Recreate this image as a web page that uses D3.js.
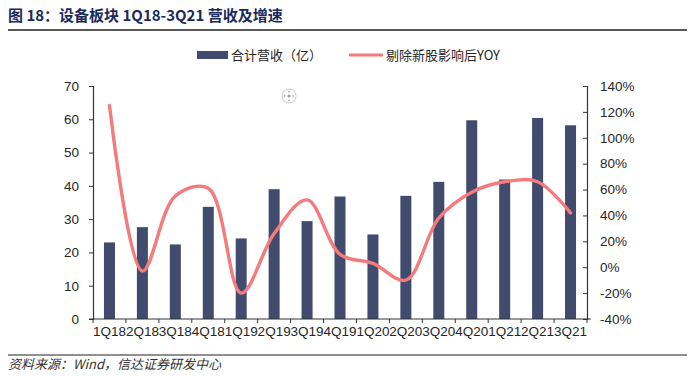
<!DOCTYPE html>
<html><head><meta charset="utf-8">
<script src="https://cdn.jsdelivr.net/npm/d3@7"></script>
<style>
html,body{margin:0;padding:0;background:#fff;}
svg{display:block;font-family:"Liberation Sans",Arial,"Noto Sans CJK SC",sans-serif;}
</style></head>
<body>
<svg id="c" width="700" height="376"></svg>
<script>
const categories = ["1Q18","2Q18","3Q18","4Q18","1Q19","2Q19","3Q19","4Q19","1Q20","2Q20","3Q20","4Q20","1Q21","2Q21","3Q21"];
const revenue = [23.0, 27.6, 22.4, 33.7, 24.2, 39.0, 29.4, 36.8, 25.4, 37.0, 41.2, 59.7, 41.9, 60.4, 58.2];
const yoy = [125, -3, 55, 61, -20, 26, 52, 10, 3, -10, 38, 58, 66, 66, 42];
const leftTicks = [0,10,20,30,40,50,60,70];
const rightTicks = [-40,-20,0,20,40,60,80,100,120,140];
const seriesNames = ["合计营收（亿）","剔除新股影响后YOY"];
const titleText = "图 18：设备板块 1Q18-3Q21 营收及增速";
const sourceText = "资料来源：Wind，信达证券研发中心";

const svg = d3.select("#c");
const L = 93, R = 587, T = 86, B = 319;
const barColor = "#414b6d", lineColor = "#f47a7c", txt = "#262626";

// header
svg.append("text").attr("x",8).attr("y",21).attr("font-size",15).attr("font-weight","bold")
  .attr("fill","#1b2a5a").attr("font-family","'Noto Sans CJK SC','Liberation Sans',sans-serif").text(titleText);
svg.append("line").attr("x1",8).attr("x2",687).attr("y1",30).attr("y2",30).attr("stroke","#222").attr("stroke-width",1.6);
svg.append("line").attr("x1",8).attr("x2",687).attr("y1",355).attr("y2",355).attr("stroke","#222").attr("stroke-width",1.2);
svg.append("text").attr("x",8).attr("y",369).attr("font-size",13).attr("font-style","italic")
  .attr("fill","#333").attr("font-family","'Noto Sans CJK SC','Liberation Sans',sans-serif").text(sourceText);

const x = d3.scaleBand().domain(categories).range([L,R]).paddingInner(0).paddingOuter(0);
const yL = d3.scaleLinear().domain([0,70]).range([B,T]);
const yR = d3.scaleLinear().domain([-40,140]).range([B,T]);
const bw = 11;

// bars
svg.append("g").selectAll("rect").data(categories).join("rect")
  .attr("x",d=>x(d)+x.bandwidth()/2-bw/2).attr("width",bw)
  .attr("y",(d,i)=>yL(revenue[i])).attr("height",(d,i)=>B-yL(revenue[i]))
  .attr("fill",barColor);

// left axis
const gl = svg.append("g").attr("transform",`translate(${L},0)`)
  .call(d3.axisLeft(yL).tickValues(leftTicks).tickSize(4).tickPadding(10));
// right axis
const gr = svg.append("g").attr("transform",`translate(${R},0)`)
  .call(d3.axisRight(yR).tickValues(rightTicks).tickSize(-4).tickPadding(13).tickFormat(d=>d+"%"));
// x axis
const gx = svg.append("g").attr("transform",`translate(0,${B})`)
  .call(d3.axisBottom(x).tickSize(0).tickPadding(7));
gx.selectAll("line.bt").data(d3.range(categories.length+1)).join("line").attr("class","bt")
  .attr("x1",i=>L+i*x.bandwidth()).attr("x2",i=>L+i*x.bandwidth()).attr("y1",0).attr("y2",4).attr("stroke","#333");
gx.select(".domain").attr("d",`M${L-4},0H${R+4}`);
[gl,gr,gx].forEach(g=>{
  g.selectAll(".domain").attr("stroke","#333").attr("stroke-width",1.2);
  g.selectAll(".tick line").attr("stroke","#333");
  g.selectAll("text").attr("font-size",13.5).attr("fill",txt).attr("font-family","'Liberation Sans',Arial,sans-serif");
});

// line
const line = d3.line().x((d,i)=>x(categories[i])+x.bandwidth()/2).y(d=>yR(d)).curve(d3.curveCatmullRom.alpha(0.5));
svg.append("path").datum(yoy).attr("d",line).attr("fill","none").attr("stroke",lineColor)
  .attr("stroke-width",3.4).attr("stroke-linecap","round");

// legend
const lg = svg.append("g").attr("font-family","'Noto Sans CJK SC','Liberation Sans',sans-serif").attr("font-size",13).attr("fill",txt);
lg.append("rect").attr("x",197).attr("y",51).attr("width",31).attr("height",8).attr("fill",barColor);
lg.append("text").attr("x",231).attr("y",60).text(seriesNames[0]);
lg.append("line").attr("x1",349).attr("x2",383).attr("y1",55).attr("y2",55).attr("stroke",lineColor).attr("stroke-width",3);
lg.append("text").attr("x",386).attr("y",60).text(seriesNames[1]);

// small pan icon (artifact in reference)
const ic = svg.append("g").attr("transform","translate(289,96)");
ic.append("circle").attr("r",7).attr("fill","none").attr("stroke","#bbb").attr("stroke-width",0.8);
ic.append("circle").attr("r",1.5).attr("fill","#999");
[[0,-4.5,0],[0,4.5,180],[-4.5,0,270],[4.5,0,90]].forEach(([a,b,r])=>{
  ic.append("path").attr("d","M-1.3,0.8L0,-0.8L1.3,0.8Z").attr("fill","#999").attr("transform",`translate(${a},${b}) rotate(${r})`);
});
</script>
</body></html>
